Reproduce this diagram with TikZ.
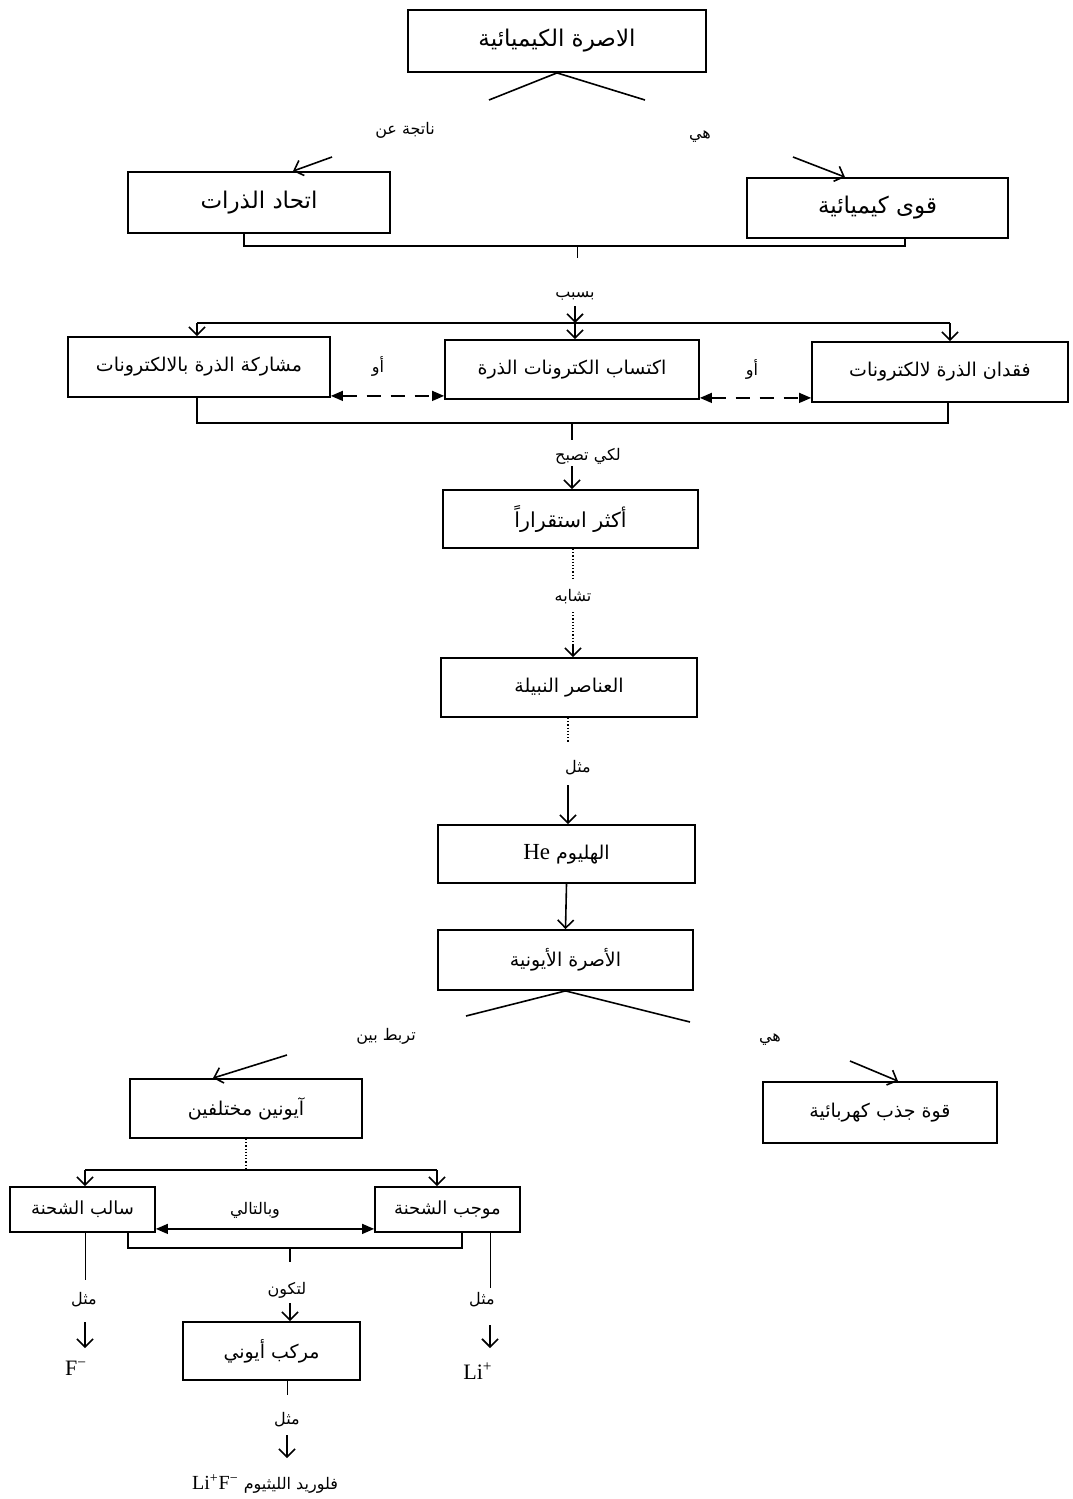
\documentclass[tikz,border=0pt]{standalone}
\usepackage{fontspec}
\setmainfont{Liberation Serif}
\newfontfamily\arabicfont[Script=Arabic]{DejaVu Sans}
\TeXXeTstate=1
\usetikzlibrary{arrows.meta,calc}
\newcommand\ar[1]{{\arabicfont\beginR #1\endR}}
\begin{document}
\begin{tikzpicture}[x=0.5pt,y=-0.5pt,
 box/.style={draw, line width=0.9pt, inner sep=0pt, anchor=center, font=\fontsize{9.5}{11}\selectfont},
 big/.style={font=\fontsize{11.5}{13}\selectfont},
 mid/.style={font=\fontsize{10.3}{12}\selectfont},
 ln/.style={line width=0.8pt},
 fine/.style={line width=0.6pt, densely dotted},
 barb/.style={ln, -{Straight Barb[length=4pt,width=8pt]}},
 dbl/.style={line width=0.7pt, dash pattern=on 7pt off 5pt, {Triangle[length=6pt,width=5pt]}-{Triangle[length=6pt,width=5pt]}},
 lbl/.style={font=\fontsize{8}{10}\selectfont, inner sep=1pt},
 lat/.style={font=\fontsize{11}{13}\selectfont, inner sep=1pt}]
\fill[white] (0,0) rectangle (1072,1499);
\path[use as bounding box] (0,0) rectangle (1072,1499);

% ---------- top ----------
\node[box, big, minimum width=149pt, minimum height=31pt] (top) at (557,41) {\ar{الاصرة الكيميائية}};
\coordinate (vL1) at (489,100); \coordinate (vR1) at (645,100);
\draw[ln] (vL1) -- (top.south) -- (vR1);
\node[lbl] (l1) at (405,130) {\ar{ناتجة عن}};
\node[lbl] (l2) at (700,137) {\ar{هي}};

\node[box, big, minimum width=131pt, minimum height=30.5pt] (atoms) at (259,202.5) {\ar{اتحاد الذرات}};
\node[box, big, minimum width=130.5pt, minimum height=30pt] (forces) at (877.5,208) {\ar{قوى كيميائية}};
\coordinate (a1) at (332,157); \coordinate (a1e) at (293,172);
\coordinate (a2) at (793,157); \coordinate (a2e) at (845,178);
\draw[barb] (a1) -- (atoms.north -| a1e);
\draw[barb] (a2) -- (forces.north -| a2e);

% merge 1
\coordinate (j1L) at (244,246); \coordinate (j1R) at (905,246);
\coordinate (j1) at (577,246); \coordinate (j1t) at (577,258);
\draw[ln] (atoms.south -| j1L) -- (j1L) -- (j1R) -- (forces.south -| j1R);
\draw[line width=0.5pt] (j1) -- (j1t);
\node[lbl] (l3) at (575,296) {\ar{بسبب}};
\coordinate (d0) at (575,306);
\coordinate (dL) at (197,323); \coordinate (dM) at (575,323); \coordinate (dR) at (950,323);
\draw[barb] (d0) -- (dM);
\draw[ln] (dL) -- (dR);

% ---------- row 3 ----------
\node[box, minimum width=131pt, minimum height=30pt] (share) at (199,367) {\ar{مشاركة الذرة بالالكترونات}};
\node[box, minimum width=127pt, minimum height=29.5pt] (gain) at (572,369.5) {\ar{اكتساب الكترونات الذرة}};
\node[box, minimum width=128pt, minimum height=30pt] (lose) at (940,372) {\ar{فقدان الذرة لالكترونات}};
\draw[barb] (dL) -- (share.north -| dL);
\draw[barb] (dM) -- (gain.north -| dM);
\draw[barb] (dR) -- (lose.north -| dR);
\node[lbl] (or1) at (378,366) {\ar{أو}};
\node[lbl] (or2) at (752,369) {\ar{أو}};
\draw[dbl] ([yshift=1pt]share.south east) -- ([yshift=2pt]gain.south west);
\draw[dbl] ([yshift=1pt]gain.south east) -- ([yshift=2.5pt]lose.south west);

% merge 2
\coordinate (j2L) at (197,423); \coordinate (j2R) at (948,423);
\coordinate (j2) at (572,423); \coordinate (j2t) at (572,440);
\draw[ln] (share.south -| j2L) -- (j2L) -- (j2R) -- (lose.south -| j2R);
\draw[line width=0.6pt] (j2) -- (j2t);
\node[lbl] (l4) at (588,456) {\ar{لكي تصبح}};
\coordinate (s0) at (572,466);

% ---------- middle column ----------
\node[box, mid, minimum width=127.5pt, minimum height=29pt] (stable) at (570.5,519) {\ar{أكثر استقراراً}};
\draw[barb] (s0) -- (stable.north -| s0);
\node[lbl] (l5) at (573,597) {\ar{تشابه}};
\node[box, minimum width=128pt, minimum height=29.5pt] (noble) at (569,687.5) {\ar{العناصر النبيلة}};
\coordinate (n0) at (573,612);
\draw[fine] (stable.south -| n0) -- ++(0,30);
\draw[fine] (n0) -- (noble.north -| n0);
\draw[barb] ($(noble.north -| n0)+(0,-12)$) -- (noble.north -| n0);
\node[lbl] (l6) at (578,768) {\ar{مثل}};
\node[box, minimum width=128.5pt, minimum height=29pt] (helium) at (566.5,854) {\ar{الهليوم \beginL{\rmfamily\fontsize{11.5}{13}\selectfont He}\endL}};
\coordinate (h0) at (568,785);
\draw[fine] (noble.south -| h0) -- ++(0,25);
\draw[barb] (h0) -- (helium.north -| h0);
\node[box, minimum width=127.5pt, minimum height=30pt] (ionic) at (565.5,960) {\ar{الأصرة الأيونية}};
\draw[barb] (helium.south) -- (ionic.north);

\coordinate (vL2) at (466,1016); \coordinate (vR2) at (690,1022);
\draw[ln] (vL2) -- (ionic.south) -- (vR2);
\node[lbl] (l7) at (386,1036) {\ar{تربط بين}};
\node[lbl] (l8) at (770,1040) {\ar{هي}};

\node[box, minimum width=116pt, minimum height=29.5pt] (ions) at (246,1108.5) {\ar{آيونين مختلفين}};
\node[box, minimum width=117pt, minimum height=30.5pt] (elec) at (880,1112.5) {\ar{قوة جذب كهربائية}};
\coordinate (a3) at (287,1055); \coordinate (a3e) at (213,1079);
\coordinate (a4) at (850,1061); \coordinate (a4e) at (898,1082);
\draw[barb] (a3) -- (ions.north -| a3e);
\draw[barb] (a4) -- (elec.north -| a4e);

% ---------- bottom ----------
\coordinate (b0) at (246,1170);
\coordinate (bL) at (85,1170); \coordinate (bR) at (437,1170);
\draw[fine] (ions.south -| b0) -- (b0);
\draw[ln] (bL) -- (bR);
\node[box, font=\fontsize{9}{11}\selectfont, minimum width=72.5pt, minimum height=22.5pt] (neg) at (82.5,1209.5) {\ar{سالب الشحنة}};
\node[box, font=\fontsize{9}{11}\selectfont, minimum width=72.5pt, minimum height=22.5pt] (pos) at (447.5,1209.5) {\ar{موجب الشحنة}};
\draw[barb] (bL) -- (neg.north -| bL);
\draw[barb] (bR) -- (pos.north -| bR);
\draw[dbl, solid] ([yshift=2pt]neg.south east) -- ([yshift=2pt]pos.south west);
\node[lbl] (l9) at (255,1210) {\ar{وبالتالي}};

\coordinate (mL) at (128,1248); \coordinate (mR) at (462,1248);
\coordinate (m0) at (290,1248); \coordinate (m0t) at (290,1262);
\draw[ln] (neg.south -| mL) -- (mL) -- (mR) -- (pos.south -| mR);
\draw[line width=0.6pt] (m0) -- (m0t);
\node[lbl] (l10) at (287,1290) {\ar{لتكون}};
\node[box, minimum width=88.5pt, minimum height=29pt] (comp) at (271.5,1351) {\ar{مركب أيوني}};
\coordinate (c0) at (290,1303);
\draw[barb] (c0) -- (comp.north -| c0);

% F-
\coordinate (f1) at (85,1280); \coordinate (f2) at (85,1322); \coordinate (f3) at (85,1348);
\draw[line width=0.5pt] (neg.south -| f1) -- (f1);
\node[lbl] (l11) at (84,1300) {\ar{مثل}};
\draw[barb] (f2) -- (f3);
\node[lat] (fion) at (76,1368) {F\textsuperscript{−}};
% Li+
\coordinate (p1) at (490,1288); \coordinate (p2) at (490,1325); \coordinate (p3) at (490,1348);
\draw[line width=0.5pt] (pos.south -| p1) -- (p1);
\node[lbl] (l12) at (482,1300) {\ar{مثل}};
\draw[barb] (p2) -- (p3);
\node[lat] (liion) at (478,1371) {Li\textsuperscript{+}};
% compound example
\coordinate (q0) at (287,1395); \coordinate (q1) at (287,1435); \coordinate (q2) at (287,1458);
\draw[line width=0.5pt] (comp.south -| q0) -- (q0);
\node[lbl] (l13) at (287,1420) {\ar{مثل}};
\draw[barb] (q1) -- (q2);
\node[lbl] (fin) at (265,1484) {\ar{فلوريد الليثيوم \beginL{\rmfamily\fontsize{10}{12}\selectfont Li\textsuperscript{+}F\textsuperscript{−}}\endL}};
\end{tikzpicture}
\end{document}
